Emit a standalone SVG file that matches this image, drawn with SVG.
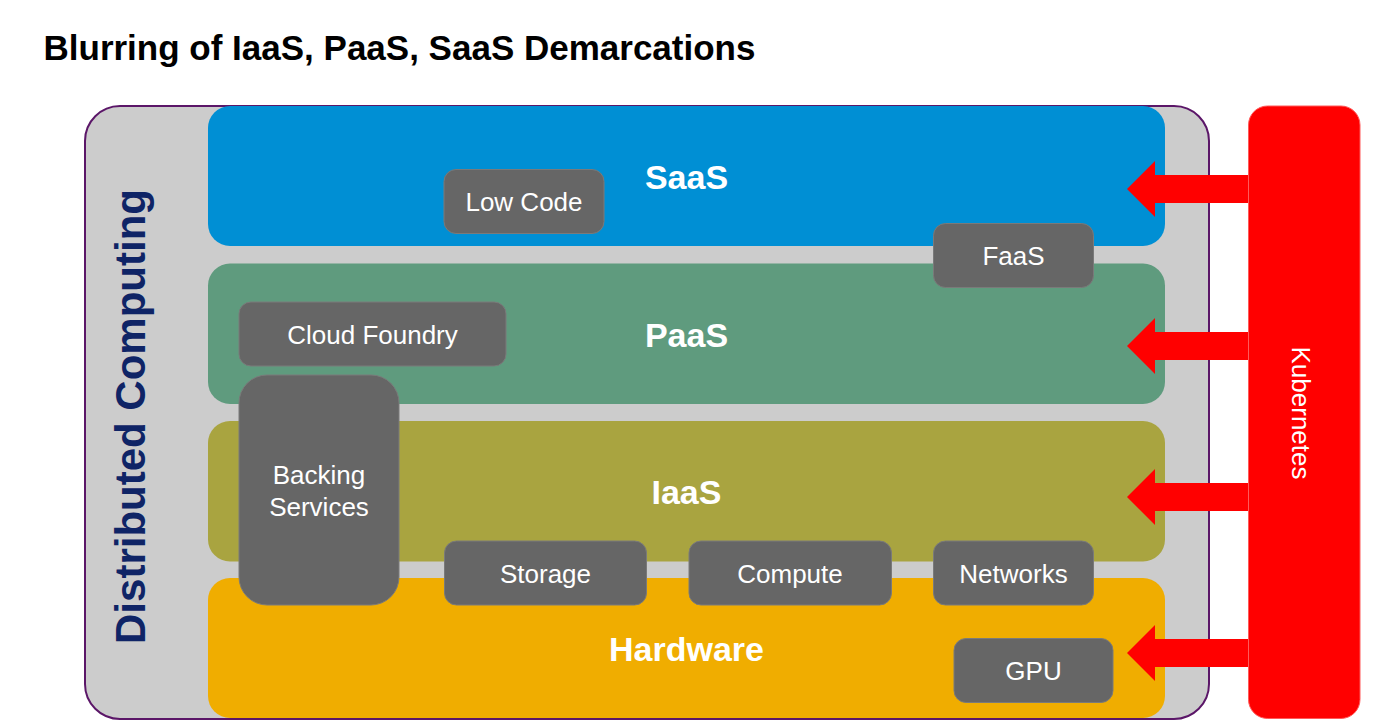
<svg xmlns="http://www.w3.org/2000/svg" width="1381" height="723" viewBox="0 0 1381 723">
<style>
text{font-family:"Liberation Sans",Arial,sans-serif}
.title{font-size:35px;font-weight:bold;fill:#000}
.band{font-size:34px;font-weight:bold;fill:#fff;text-anchor:middle}
.box{fill:#666666;stroke:#7a7a7a;stroke-width:1}
.lbl{font-size:26px;fill:#fff;text-anchor:middle}
.arrow{fill:#ff0000}
</style>
<rect width="1381" height="723" fill="#fff"/>
<text class="title" x="43.5" y="59.5">Blurring of IaaS, PaaS, SaaS Demarcations</text>

<g id="distributed-computing">
<rect x="85" y="106" width="1124" height="613" rx="35" fill="#cccccc" stroke="#5b1668" stroke-width="2"/>
<text transform="translate(145,416.5) rotate(-90)" font-size="42" font-weight="bold" fill="#0f2466" text-anchor="middle">Distributed Computing</text>
</g>

<g id="saas">
<rect x="208" y="106" width="957" height="140" rx="22" fill="#008fd4"/>
<text class="band" x="686.5" y="189">SaaS</text>
</g>
<g id="paas">
<rect x="208" y="263.5" width="957" height="140.5" rx="22" fill="#5f9b7e"/>
<text class="band" x="686.5" y="346.5">PaaS</text>
</g>
<g id="iaas">
<rect x="208" y="421" width="957" height="140.5" rx="22" fill="#a9a440"/>
<text class="band" x="686.5" y="504">IaaS</text>
</g>
<g id="hardware">
<rect x="208" y="578" width="957" height="140" rx="22" fill="#f0ad00"/>
<text class="band" x="686.5" y="661">Hardware</text>
</g>

<g id="connectors">
<polygon class="arrow" points="1127,189 1155,161 1155,175 1249,175 1249,203 1155,203 1155,217"/>
<polygon class="arrow" points="1127,346 1155,318 1155,332 1249,332 1249,360 1155,360 1155,374"/>
<polygon class="arrow" points="1127,497 1155,469 1155,483 1249,483 1249,511 1155,511 1155,525"/>
<polygon class="arrow" points="1127,653 1155,625 1155,639 1249,639 1249,667 1155,667 1155,681"/>
</g>

<g id="low-code">
<rect class="box" x="444" y="169.5" width="160" height="64" rx="12"/>
<text class="lbl" x="524" y="211">Low Code</text>
</g>
<g id="faas">
<rect class="box" x="933.5" y="223.5" width="160" height="64" rx="12"/>
<text class="lbl" x="1013.5" y="264.5">FaaS</text>
</g>
<g id="cloud-foundry">
<rect class="box" x="239" y="302" width="267" height="64" rx="12"/>
<text class="lbl" x="372.5" y="343.5">Cloud Foundry</text>
</g>
<g id="backing-services">
<rect class="box" x="239" y="375" width="160" height="230" rx="28"/>
<text class="lbl" x="319" y="484">Backing</text>
<text class="lbl" x="319" y="515.5">Services</text>
</g>
<g id="storage">
<rect class="box" x="444.5" y="541" width="202" height="64" rx="12"/>
<text class="lbl" x="545.5" y="582.5">Storage</text>
</g>
<g id="compute">
<rect class="box" x="689" y="541" width="202.5" height="64" rx="12"/>
<text class="lbl" x="790" y="582.5">Compute</text>
</g>
<g id="networks">
<rect class="box" x="933.5" y="541" width="160" height="64" rx="12"/>
<text class="lbl" x="1013.5" y="582.5">Networks</text>
</g>
<g id="gpu">
<rect class="box" x="954" y="638.5" width="159" height="64" rx="12"/>
<text class="lbl" x="1033.5" y="680">GPU</text>
</g>

<g id="kubernetes">
<rect x="1248.5" y="106" width="111.5" height="612.5" rx="19" fill="#ff0000" stroke="#ff5a5a" stroke-width="1"/>
<text transform="translate(1292,413) rotate(90)" font-size="26" fill="#fff" text-anchor="middle">Kubernetes</text>
</g>
</svg>
